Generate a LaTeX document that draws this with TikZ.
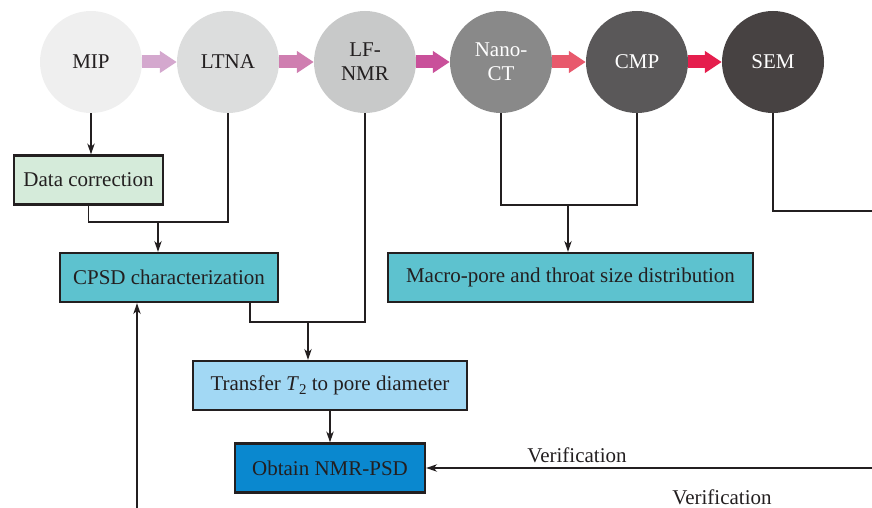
\documentclass[tikz,border=0pt]{standalone}
\usepackage{fontspec}
\setmainfont{Liberation Serif}
\usetikzlibrary{arrows.meta}
\definecolor{txt}{HTML}{231F20}
\definecolor{cA}{HTML}{EFEFEF}
\definecolor{cB}{HTML}{DCDDDD}
\definecolor{cC}{HTML}{C8C9C9}
\definecolor{cD}{HTML}{898989}
\definecolor{cE}{HTML}{5A5859}
\definecolor{cF}{HTML}{474242}
\definecolor{aA}{HTML}{D4A8CE}
\definecolor{aB}{HTML}{CF7EB0}
\definecolor{aC}{HTML}{C9509A}
\definecolor{aD}{HTML}{E8596C}
\definecolor{aE}{HTML}{E51E4D}
\definecolor{fGreen}{HTML}{D5EBDA}
\definecolor{fTeal}{HTML}{5DC2CF}
\definecolor{fLight}{HTML}{A2D8F4}
\definecolor{fBlue}{HTML}{0A88CF}
\begin{document}
\begin{tikzpicture}[x=1pt,y=-1pt,
  font=\fontsize{21}{24}\selectfont,
  circ/.style={circle,minimum size=102pt,inner sep=0pt,align=center,text=txt},
  circw/.style={circ,text=white},
  box/.style={draw=txt,line width=2.3pt,inner sep=0pt,minimum height=49pt,text=txt},
  conn/.style={draw=txt,line width=1.2pt},
  arr/.style={conn,-{Stealth[length=11pt,width=7.5pt]}},
  blk/.style={line width=13pt,-{Triangle[length=17pt,width=21pt]}},
  lbl/.style={text=txt,inner sep=0pt}
]
\path[use as bounding box] (0,0) rectangle (872,508);

% circles
\node[circ,fill=cA] (MIP) at (91,62) {MIP};
\node[circ,fill=cB] (LTNA) at (228,62) {LTNA};
\node[circ,fill=cC] (LFNMR) at (365,62) {LF-\\NMR};
\node[circw,fill=cD] (NCT) at (501,62) {Nano-\\CT};
\node[circw,fill=cE] (CMP) at (637,62) {CMP};
\node[circw,fill=cF] (SEM) at (773,62) {SEM};

% block arrows
\draw[blk,aA] (MIP.east) -- (LTNA.west);
\draw[blk,aB] (LTNA.east) -- (LFNMR.west);
\draw[blk,aC] (LFNMR.east) -- (NCT.west);
\draw[blk,aD] (NCT.east) -- (CMP.west);
\draw[blk,aE] (CMP.east) -- (SEM.west);

% boxes
\node[box,fill=fGreen,minimum width=149pt] (DC) at (88.5,180) {Data correction};
\node[box,fill=fTeal,minimum width=218pt] (CPSD) at (169,277.5) {CPSD characterization};
\node[box,fill=fTeal,minimum width=365pt] (MAC) at (570.5,277.5) {Macro-pore and throat size distribution};
\node[box,fill=fLight,minimum width=274pt] (TR) at (330,385.5) {Transfer \textit{T}\raisebox{-0.35ex}{\fontsize{15}{15}\selectfont 2} to pore diameter};
\node[box,fill=fBlue,minimum width=190pt] (OB) at (330,468) {Obtain NMR-PSD};

% helper coordinates
\coordinate (m1) at (228,222);
\coordinate (a1) at (158,222);
\coordinate (m2) at (308,322);
\coordinate (cp) at (250,303);
\coordinate (m3) at (568,205);
\coordinate (m4) at (773,211);
\coordinate (r4) at (873,211);
\coordinate (r1) at (873,468);
\coordinate (l1) at (137,509);

% connectors
\draw[arr] (MIP.south) -- (MIP.south |- DC.north);
\draw[conn] (DC.south) |- (m1) -- (LTNA.south);
\draw[arr] (a1) -- (a1 |- CPSD.north);
\draw[conn] (LFNMR.south) |- (m2) -| (cp);
\draw[arr] (m2) -- (m2 |- TR.north);
\draw[arr] (TR.south) -- (OB.north);
\draw[arr] (r1) -- (OB.east);
\draw[arr] (l1) -- (l1 |- CPSD.south);
\draw[conn] (NCT.south) |- (m3) -| (CMP.south);
\draw[arr] (m3) -- (m3 |- MAC.north);
\draw[conn] (SEM.south) -- (m4) -- (r4);

% labels
\node[lbl] (v1) at (577,455) {Verification};
\node[lbl] (v2) at (722,497) {Verification};
\end{tikzpicture}
\end{document}
